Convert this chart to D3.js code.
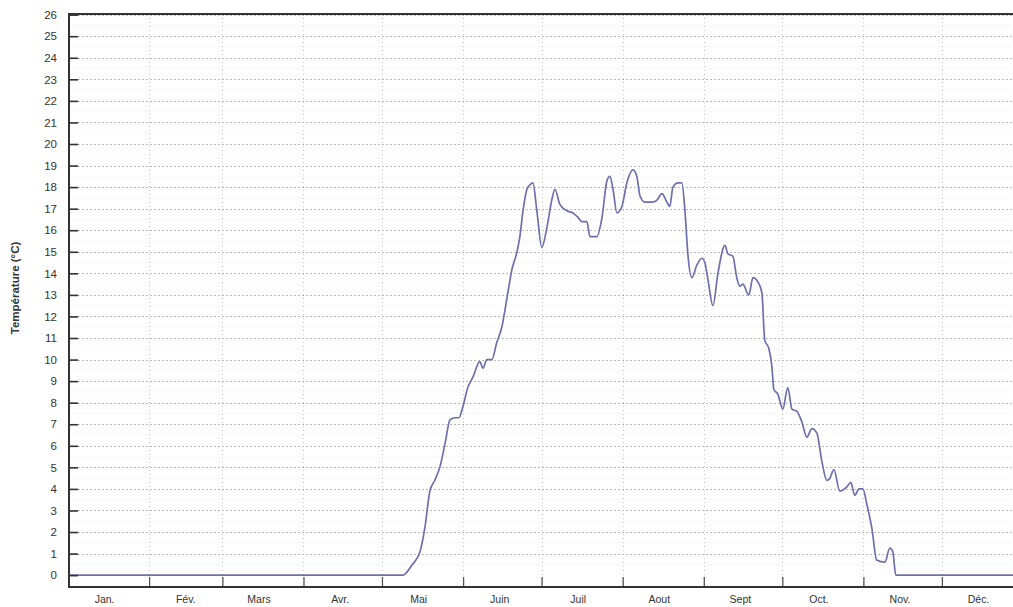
<!DOCTYPE html>
<html><head><meta charset="utf-8">
<script src="https://cdn.jsdelivr.net/npm/d3@7"></script>
<style>body{margin:0;background:#fff;}svg{display:block;}</style>
</head><body><svg id="c" width="1013" height="607"></svg>
<script>
// Data
const monthLabels = ["Jan.","Fév.","Mars","Avr.","Mai","Juin","Juil","Aout","Sept","Oct.","Nov.","Déc."];
const monthStarts = [0,31,59,90,120,151,181,212,243,273,304,334];
const yTicks = d3.range(0,27);
const days = [0,128.0,131.4,134.5,136.4,138.3,140.2,142.1,144.1,146.0,147.9,149.4,150.9,152.8,154.8,157.4,158.6,160.1,162.0,163.9,165.8,167.7,169.7,171.6,172.7,173.9,175.4,176.5,177.7,179.2,181.1,183.0,184.9,186.1,188.0,190.7,193.0,194.9,196.4,198.3,199.5,202.1,204.1,206.0,207.1,208.3,209.8,211.7,213.6,215.9,217.4,218.6,220.5,223.2,225.1,227.0,228.9,230.0,231.2,233.1,234.6,235.8,236.9,238.4,240.4,242.3,243.4,244.6,246.5,248.4,251.1,252.2,254.1,255.6,256.8,257.9,260.2,261.8,263.7,265.2,266.3,267.9,269.0,269.8,271.3,273.2,275.1,276.7,278.6,280.5,282.4,284.3,286.2,288.1,290.0,291.2,292.7,295.0,297.7,299.2,300.7,302.3,303.8,305.3,307.2,309.1,312.2,314.1,315.2,316.4,365];
const temps = [0,0,0.46,1.07,2.2,3.9,4.4,5.0,6.1,7.2,7.3,7.3,7.8,8.7,9.2,9.9,9.6,10.0,10.0,10.8,11.5,12.8,14.2,15.0,15.7,16.9,17.9,18.1,18.2,16.9,15.2,16.1,17.4,17.9,17.2,16.9,16.8,16.6,16.4,16.4,15.7,15.7,16.6,18.3,18.5,17.9,16.8,17.1,18.2,18.8,18.5,17.6,17.3,17.3,17.4,17.7,17.3,17.1,18.0,18.2,18.2,16.9,14.9,13.8,14.4,14.7,14.5,13.7,12.5,14.0,15.3,14.9,14.8,13.8,13.4,13.5,13.0,13.8,13.6,13.1,10.9,10.5,9.7,8.6,8.4,7.7,8.7,7.7,7.6,7.1,6.4,6.8,6.6,5.3,4.4,4.5,4.9,3.9,4.1,4.3,3.7,4.0,4.0,3.3,2.2,0.7,0.6,1.25,1.1,0,0];

const svg = d3.select("#c");
const x = d3.scaleLinear().domain([0,365]).range([68,1023]);
const y = d3.scaleLinear().domain([-0.55,26.03]).range([587,14]);
const font = "'Liberation Sans', Arial, sans-serif";

// minor horizontal grid (half units)
svg.append("g").selectAll("line").data(d3.range(0.5,26,1)).join("line")
  .attr("x1",70).attr("x2",1013).attr("y1",d=>y(d)).attr("y2",d=>y(d))
  .attr("stroke","#e6e6e6").attr("stroke-width",1).attr("stroke-dasharray","1,3");
// major horizontal grid
svg.append("g").selectAll("line").data(yTicks.filter(d=>d>0)).join("line")
  .attr("x1",70).attr("x2",1013).attr("y1",d=>Math.round(y(d))+0.5).attr("y2",d=>Math.round(y(d))+0.5)
  .attr("stroke","#b8b8b8").attr("stroke-width",1).attr("stroke-dasharray","2,2");
// vertical grid at month starts
svg.append("g").selectAll("line").data(monthStarts.slice(1)).join("line")
  .attr("x1",d=>Math.round(x(d))+0.5).attr("x2",d=>Math.round(x(d))+0.5).attr("y1",14).attr("y2",587)
  .attr("stroke","#c4c4c4").attr("stroke-width",1).attr("stroke-dasharray","1,3");

// line
const line = d3.line().x((d,i)=>x(days[i])).y(d=>y(d)).curve(d3.curveMonotoneX);
svg.append("path").datum(temps).attr("d",line).attr("fill","none")
  .attr("stroke","#6d70ac").attr("stroke-width",1.7).attr("stroke-linejoin","round");

// Y axis
const yAxis = d3.axisLeft(y).tickValues(yTicks).tickSize(-9).tickPadding(12).tickFormat(d3.format("d"));
const gy = svg.append("g").attr("transform","translate(69,0)").call(yAxis);
gy.select(".domain").remove();
gy.selectAll(".tick line").attr("stroke","#333").attr("stroke-width",1.6);
gy.selectAll(".tick text").attr("font-family",font).attr("font-size",11.5).attr("fill","#333");
svg.append("line").attr("x1",69).attr("x2",69).attr("y1",13).attr("y2",588).attr("stroke","#333").attr("stroke-width",2);

// X axis
const xAxis = d3.axisBottom(x).tickValues(monthStarts.slice(1)).tickSize(-10).tickFormat("");
const gx = svg.append("g").attr("transform","translate(0,587)").call(xAxis);
gx.select(".domain").remove();
gx.selectAll(".tick line").attr("stroke","#555").attr("stroke-width",1.3);
svg.append("line").attr("x1",68).attr("x2",1013).attr("y1",587).attr("y2",587).attr("stroke","#333").attr("stroke-width",2);
svg.append("line").attr("x1",68).attr("x2",1013).attr("y1",14).attr("y2",14).attr("stroke","#333").attr("stroke-width",2);

// Month labels
svg.append("g").selectAll("text").data(monthLabels).join("text")
  .attr("x",(d,i)=>x(monthStarts[i]+14)).attr("y",603)
  .attr("text-anchor","middle").attr("font-family",font).attr("font-size",10.5).attr("fill","#333")
  .text(d=>d);

// Y title
svg.append("text").attr("transform","translate(19,288) rotate(-90)")
  .attr("text-anchor","middle").attr("font-family",font).attr("font-size",11.5).attr("font-weight","bold").attr("fill","#333")
  .text("Température (°C)");
</script></body></html>
